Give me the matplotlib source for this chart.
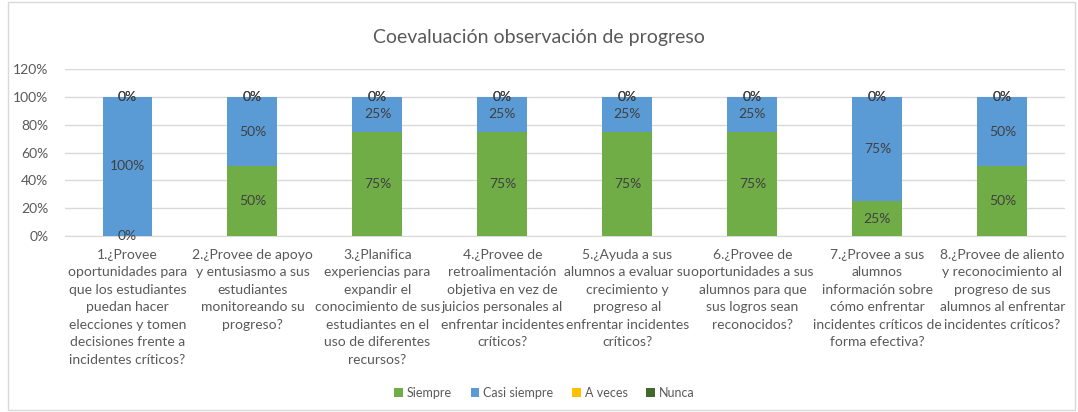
import numpy as np
import matplotlib.pyplot as plt
from matplotlib.patches import Rectangle

plt.rcParams['font.family'] = ['Lato', 'DejaVu Sans']

categories = [
    "1.¿Provee\noportunidades para\nque los estudiantes\npuedan hacer\nelecciones y tomen\ndecisiones frente a\nincidentes críticos?",
    "2.¿Provee de apoyo\ny entusiasmo a sus\nestudiantes\nmonitoreando su\nprogreso?",
    "3.¿Planifica\nexperiencias para\nexpandir el\nconocimiento de sus\nestudiantes en el\nuso de diferentes\nrecursos?",
    "4.¿Provee de\nretroalimentación\nobjetiva en vez de\njuicios personales al\nenfrentar incidentes\ncríticos?",
    "5.¿Ayuda a sus\nalumnos a evaluar su\ncrecimiento y\nprogreso al\nenfrentar incidentes\ncríticos?",
    "6.¿Provee de\noportunidades a sus\nalumnos para que\nsus logros sean\nreconocidos?",
    "7.¿Provee a sus\nalumnos\ninformación sobre\ncómo enfrentar\nincidentes críticos de\nforma efectiva?",
    "8.¿Provee de aliento\ny reconocimiento al\nprogreso de sus\nalumnos al enfrentar\nincidentes críticos?",
]
series_names = ["Siempre", "Casi siempre", "A veces", "Nunca"]
siempre = [0.00, 0.50, 0.75, 0.75, 0.75, 0.75, 0.25, 0.50]
casi_siempre = [1.00, 0.50, 0.25, 0.25, 0.25, 0.25, 0.75, 0.50]
a_veces = [0, 0, 0, 0, 0, 0, 0, 0]
nunca = [0, 0, 0, 0, 0, 0, 0, 0]
colors = ["#70AD47", "#5B9BD5", "#FFC000", "#43682B"]

text_col = "#595959"
label_col = "#404040"

fig = plt.figure(figsize=(10.78, 4.12), dpi=100)
ax = fig.add_axes([0.0603, 0.427, 0.9276, 0.4053])

x = np.arange(len(categories))
bottom = np.zeros(len(categories))
for name, vals, c in zip(series_names, [siempre, casi_siempre, a_veces, nunca], colors):
    vals = np.array(vals, dtype=float)
    ax.bar(x, vals, 0.4, bottom=bottom, color=c, label=name, zorder=3)
    for xi, b, v in zip(x, bottom, vals):
        ax.text(xi, b + v / 2, f"{v*100:.0f}%", ha='center', va='center',
                fontsize=10, color=label_col, zorder=4)
    bottom += vals

ax.set_xlim(-0.5, len(categories) - 0.5)
ax.set_ylim(0, 1.2)
ax.set_yticks(np.arange(0, 1.21, 0.2))
ax.set_yticklabels([f"{t*100:.0f}%" for t in np.arange(0, 1.21, 0.2)])
ax.set_xticks(x)
ax.set_xticklabels(categories, linespacing=1.55)
ax.tick_params(axis='both', length=0, labelsize=10, labelcolor=text_col)
ax.tick_params(axis='x', pad=9)
ax.tick_params(axis='y', pad=12)
ax.grid(axis='y', color='#D9D9D9', linewidth=1, zorder=0)
for s in ['top', 'right', 'left']:
    ax.spines[s].set_visible(False)
ax.spines['bottom'].set_color('#D9D9D9')

fig.text(0.5, 0.908, "Coevaluación observación de progreso", ha='center', va='center',
         fontsize=14, color=text_col)

handles, labels = ax.get_legend_handles_labels()
fig.legend(handles, labels, loc='center', bbox_to_anchor=(0.505, 0.046), ncol=4,
           frameon=False, fontsize=9, handlelength=0.7, handleheight=0.7,
           handletextpad=0.3, columnspacing=1.5, labelcolor=text_col)

fig.patches.append(Rectangle((0.007, 0.005), 0.99, 0.99, transform=fig.transFigure,
                             fill=False, edgecolor='#D9D9D9', linewidth=1))

fig.savefig("out.png", dpi=100)
